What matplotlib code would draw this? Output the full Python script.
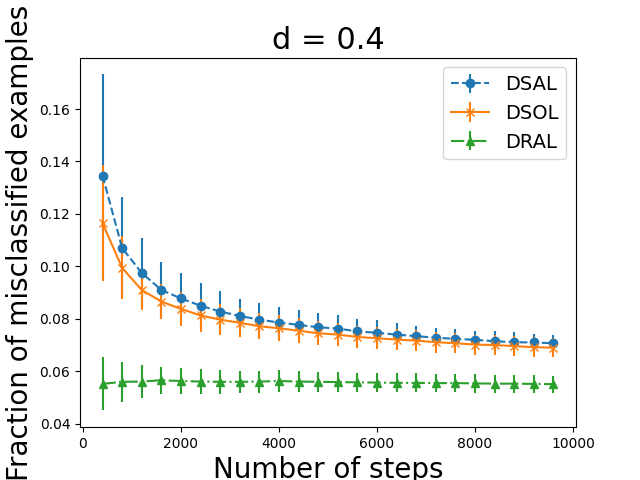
import matplotlib
matplotlib.use("Agg")
import matplotlib.pyplot as plt

steps = list(range(400, 10000, 400))

dsal_mean = [0.1346, 0.1070, 0.0975, 0.0910, 0.0878, 0.0850, 0.0828, 0.0811,
             0.0797, 0.0786, 0.0777, 0.0768, 0.0763, 0.0752, 0.0747, 0.0740,
             0.0734, 0.0728, 0.0724, 0.0720, 0.0715, 0.0711, 0.0710, 0.0707]
dsal_err = [0.0386, 0.0196, 0.0135, 0.0108, 0.0097, 0.0088, 0.0077, 0.0066,
            0.0065, 0.0061, 0.0058, 0.0055, 0.0050, 0.0049, 0.0047, 0.0043,
            0.0040, 0.0038, 0.0038, 0.0035, 0.0037, 0.0037, 0.0033, 0.0030]

dsol_mean = [0.1165, 0.0994, 0.0910, 0.0866, 0.0838, 0.0813, 0.0797, 0.0785,
             0.0772, 0.0764, 0.0755, 0.0745, 0.0740, 0.0731, 0.0726, 0.0721,
             0.0717, 0.0711, 0.0707, 0.0702, 0.0700, 0.0696, 0.0692, 0.0690]
dsol_err = [0.0220, 0.0120, 0.0078, 0.0066, 0.0066, 0.0064, 0.0060, 0.0055,
            0.0050, 0.0049, 0.0048, 0.0045, 0.0044, 0.0043, 0.0042, 0.0041,
            0.0040, 0.0040, 0.0039, 0.0038, 0.0038, 0.0037, 0.0037, 0.0036]

dral_mean = [0.0552, 0.0560, 0.0561, 0.0566, 0.0563, 0.0561, 0.0560, 0.0560,
             0.0561, 0.0563, 0.0561, 0.0560, 0.0559, 0.0558, 0.0557, 0.0556,
             0.0556, 0.0555, 0.0555, 0.0554, 0.0553, 0.0553, 0.0552, 0.0551]
dral_err = [0.0101, 0.0076, 0.0064, 0.0052, 0.0050, 0.0047, 0.0045, 0.0043,
            0.0042, 0.0041, 0.0040, 0.0039, 0.0038, 0.0037, 0.0037, 0.0036,
            0.0036, 0.0035, 0.0035, 0.0035, 0.0034, 0.0034, 0.0034, 0.0033]


def main() -> None:
    fig, ax = plt.subplots(figsize=(6.4, 4.8), dpi=100)

    ax.errorbar(steps, dsal_mean, yerr=dsal_err, fmt="o--", label="DSAL")
    ax.errorbar(steps, dsol_mean, yerr=dsol_err, fmt="x-", label="DSOL")
    ax.errorbar(steps, dral_mean, yerr=dral_err, fmt="^-.", label="DRAL")

    ax.set_title("d = 0.4", fontsize=22)
    ax.set_xlabel("Number of steps", fontsize=20)
    ax.set_ylabel("Fraction of misclassified examples", fontsize=20)
    ax.legend(fontsize=14)

    fig.savefig("out.png", dpi=100)
    plt.close(fig)


if __name__ == "__main__":
    main()
